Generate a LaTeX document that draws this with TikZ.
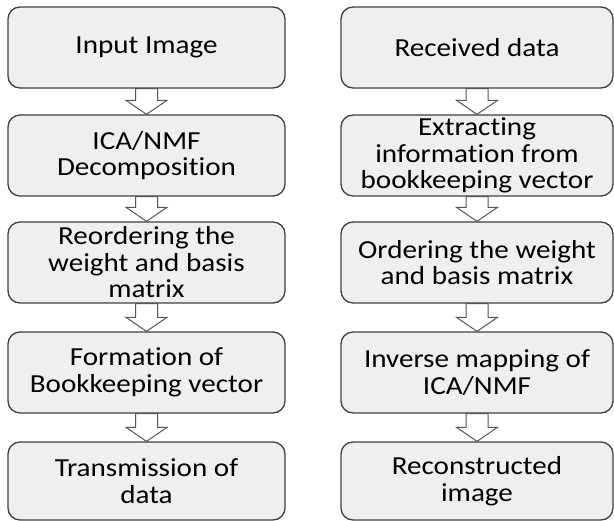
\documentclass[tikz,border=0pt]{standalone}
\usepackage{fontspec}
\setmainfont{Carlito}
\newfontfamily\boxfont[FakeStretch=1.12,Ligatures=NoCommon]{Carlito}
\usetikzlibrary{calc}
\definecolor{boxfill}{HTML}{EFEFEF}
\definecolor{boxdraw}{HTML}{404040}
\definecolor{arrdraw}{HTML}{555555}
\tikzset{
  stepbox/.style={draw=boxdraw, fill=boxfill, line width=1.3pt, rounded corners=12pt,
    align=center, font=\boxfont\fontsize{26}{26.5}\selectfont, text=black, inner sep=0pt},
  lbox/.style={stepbox, minimum width=277pt},
  rbox/.style={stepbox, minimum width=272pt},
  blockarr/.style={draw=arrdraw, fill=white, line width=1pt, line join=miter}
}
\newcommand{\blockarrow}[2]{%
  \draw[blockarr] ($(#1.south)+(-11pt,0)$) -- ($(#2.north)+(-11pt,14pt)$) -- ($(#2.north)+(-20.5pt,14pt)$)
    -- (#2.north) -- ($(#2.north)+(20.5pt,14pt)$) -- ($(#2.north)+(11pt,14pt)$)
    -- ($(#1.south)+(11pt,0)$) -- cycle;}
\begin{document}
\begin{tikzpicture}[x=1pt,y=1pt]
\useasboundingbox (0,0) rectangle (614,-521);
% left column
\node[lbox, minimum height=81pt] (l1) at (146.5,-47.5) {Input Image};
\node[lbox, minimum height=81pt] (l2) at (146.5,-155.5) {ICA/NMF\\Decomposition};
\node[lbox, minimum height=81pt] (l3) at (146.5,-262.5) {Reordering the\\weight and basis\\matrix};
\node[lbox, minimum height=81pt] (l4) at (146.5,-372.5) {Formation of\\Bookkeeping vector};
\node[lbox, minimum height=78pt] (l5) at (146.5,-481) {Transmission of\\data};
% right column
\node[rbox, minimum height=81pt] (r1) at (477,-47.5) {Received data};
\node[rbox, minimum height=81pt] (r2) at (477,-155.5) {Extracting\\information from\\bookkeeping vector};
\node[rbox, minimum height=81pt] (r3) at (477,-262.5) {Ordering the weight\\and basis matrix};
\node[rbox, minimum height=81pt] (r4) at (477,-372.5) {Inverse mapping of\\ICA/NMF};
\node[rbox, minimum height=78pt] (r5) at (477,-481) {Reconstructed\\image};
% arrows
\blockarrow{l1}{l2}
\blockarrow{l2}{l3}
\blockarrow{l3}{l4}
\blockarrow{l4}{l5}
\blockarrow{r1}{r2}
\blockarrow{r2}{r3}
\blockarrow{r3}{r4}
\blockarrow{r4}{r5}
\end{tikzpicture}
\end{document}
